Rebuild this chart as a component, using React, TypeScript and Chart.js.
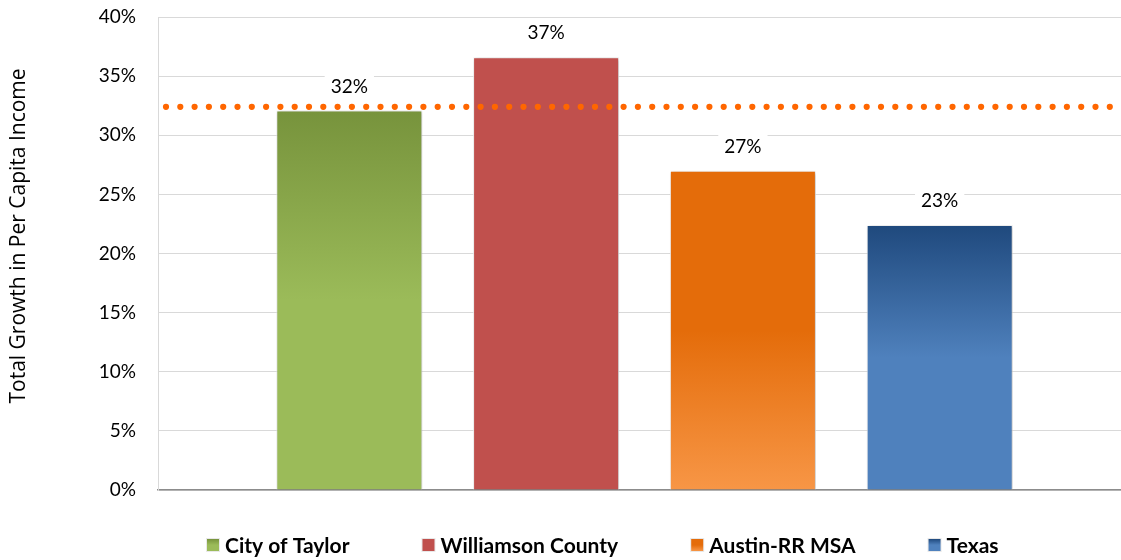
import React, { useEffect, useRef } from "react";
import { Chart, registerables } from "chart.js";

Chart.register(...registerables);

const categories = ["City of Taylor", "Williamson County", "Austin-RR MSA", "Texas"];
const growthValues = [32.1, 36.6, 27.0, 22.4];
const valueLabels = ["32%", "37%", "27%", "23%"];
const referenceValue = 32.4;
const yMin = 0;
const yMax = 40;
const yStep = 5;
const axisTitle = "Total Growth in Per Capita Income";

// gradient stops per series: [offset, colour] from bar top (0) to base (1)
const seriesGradients: [number, string][][] = [
  [[0, "#77933C"], [0.5, "#9BBB59"], [1, "#9BBB59"]],
  [[0, "#C0504D"], [1, "#C0504D"]],
  [[0, "#E46C0A"], [0.5, "#E46C0A"], [1, "#F79646"]],
  [[0, "#1F497D"], [0.5, "#4F81BD"], [1, "#4F81BD"]],
];
const solidColors = ["#9BBB59", "#C0504D", "#E46C0A", "#4F81BD"];

const FONT = "Lato, 'Open Sans', sans-serif";
const TITLE_FONT = "'Open Sans', Lato, sans-serif";

export default function App() {
  const canvasRef = useRef<HTMLCanvasElement | null>(null);

  useEffect(() => {
    const canvas = canvasRef.current;
    if (!canvas) return;

    const makeGradient = (ctx: CanvasRenderingContext2D, stops: [number, string][], y0: number, y1: number) => {
      const g = ctx.createLinearGradient(0, y0, 0, y1);
      stops.forEach(([o, c]) => g.addColorStop(o, c));
      return g;
    };

    const shadowPlugin = {
      id: "barShadow",
      beforeDatasetDraw(chart: any) {
        const ctx = chart.ctx;
        ctx.save();
        ctx.shadowColor = "rgba(0,0,0,0.28)";
        ctx.shadowBlur = 4;
        ctx.shadowOffsetX = 1;
        ctx.shadowOffsetY = 1;
      },
      afterDatasetDraw(chart: any) {
        chart.ctx.restore();
      },
    };

    const overlayPlugin = {
      id: "overlay",
      afterDatasetsDraw(chart: any) {
        const ctx = chart.ctx;
        const { chartArea, scales } = chart;
        const yRef = scales.y.getPixelForValue(referenceValue);
        // dotted reference line
        ctx.save();
        ctx.strokeStyle = "#FF6600";
        ctx.lineWidth = 6.2;
        ctx.lineCap = "round";
        ctx.setLineDash([0, 14.3]);
        ctx.beginPath();
        ctx.moveTo(chartArea.left + 8, yRef);
        ctx.lineTo(chartArea.right, yRef);
        ctx.stroke();
        ctx.restore();

        // value labels
        ctx.save();
        ctx.font = `19px ${FONT}`;
        ctx.textAlign = "center";
        ctx.textBaseline = "middle";
        chart.data.datasets.forEach((ds: any, i: number) => {
          const meta = chart.getDatasetMeta(i);
          const el = meta.data[0];
          if (!el) return;
          const text = valueLabels[i];
          const cx = el.x;
          const cy = el.y - 25;
          const w = ctx.measureText(text).width + 12;
          ctx.fillStyle = "#FFFFFF";
          ctx.fillRect(cx - w / 2, cy - 12, w, 24);
          ctx.fillStyle = "#000000";
          ctx.fillText(text, cx, cy + 1);
        });
        ctx.restore();

        // axis title
        ctx.save();
        ctx.translate(19, 236);
        ctx.rotate(-Math.PI / 2);
        ctx.font = `21px ${TITLE_FONT}`;
        ctx.textAlign = "center";
        ctx.textBaseline = "middle";
        ctx.fillStyle = "#000000";
        ctx.fillText(axisTitle, 0, 0);
        ctx.restore();

        // legend
        ctx.save();
        ctx.font = `bold 21px ${FONT}`;
        ctx.textBaseline = "middle";
        ctx.textAlign = "left";
        let x = 207;
        const ly = 545;
        categories.forEach((name, i) => {
          const box = 12;
          ctx.fillStyle = "#E8E8E8";
          ctx.fillRect(x - 1, ly - box / 2 - 1, box + 2, box + 2);
          ctx.fillStyle = makeGradient(ctx, seriesGradients[i], ly - box / 2, ly + box / 2);
          ctx.fillRect(x, ly - box / 2, box, box);
          ctx.fillStyle = "#000000";
          const tx = x + box + 6;
          ctx.fillText(name, tx, ly + 1);
          x = tx + ctx.measureText(name).width + 73;
        });
        ctx.restore();
      },
    };

    const chart = new Chart(canvas, {
      type: "bar",
      data: {
        labels: [""],
        datasets: categories.map((name, i) => ({
          label: name,
          data: [growthValues[i]],
          backgroundColor: (c: any) => {
            const ch = c.chart;
            if (!ch.chartArea || !ch.scales.y) return solidColors[i];
            const y0 = ch.scales.y.getPixelForValue(growthValues[i]);
            const y1 = ch.scales.y.getPixelForValue(0);
            return makeGradient(ch.ctx, seriesGradients[i], y0, y1);
          },
          borderColor: "rgba(255,255,255,0.9)",
          borderWidth: 1,
          borderSkipped: "bottom" as const,
          categoryPercentage: 0.809,
          barPercentage: 0.742,
        })),
      },
      options: {
        responsive: false,
        animation: false,
        layout: { padding: { left: 0, top: 17, right: 9, bottom: 70 } },
        plugins: {
          legend: { display: false },
          tooltip: { enabled: false },
        },
        scales: {
          x: {
            grid: { display: false, drawTicks: false },
            ticks: { display: false },
            border: { display: true, color: "#8C8C8C", width: 1.5 },
            afterFit: (s: any) => {
              s.height = 0;
            },
          },
          y: {
            min: yMin,
            max: yMax,
            ticks: {
              stepSize: yStep,
              padding: 0,
              color: "#000000",
              font: { family: FONT, size: 19 },
              callback: (v: any) => `${v}%`,
            },
            grid: { color: "#D9D9D9", lineWidth: 1, drawTicks: true, tickLength: 22, tickColor: "rgba(0,0,0,0)" },
            border: { display: true, color: "#D9D9D9", width: 1 },
            title: { display: false },
            afterFit: (s: any) => {
              s.width = 158;
            },
          },
        },
      },
      plugins: [shadowPlugin, overlayPlugin],
    });

    return () => chart.destroy();
  }, []);

  return (
    <div style={{ position: "fixed", left: 0, top: 0, width: 1121, height: 560, overflow: "hidden", background: "#FFFFFF" }}>
      <canvas ref={canvasRef} width={1140} height={560} style={{ display: "block" }} />
    </div>
  );
}
